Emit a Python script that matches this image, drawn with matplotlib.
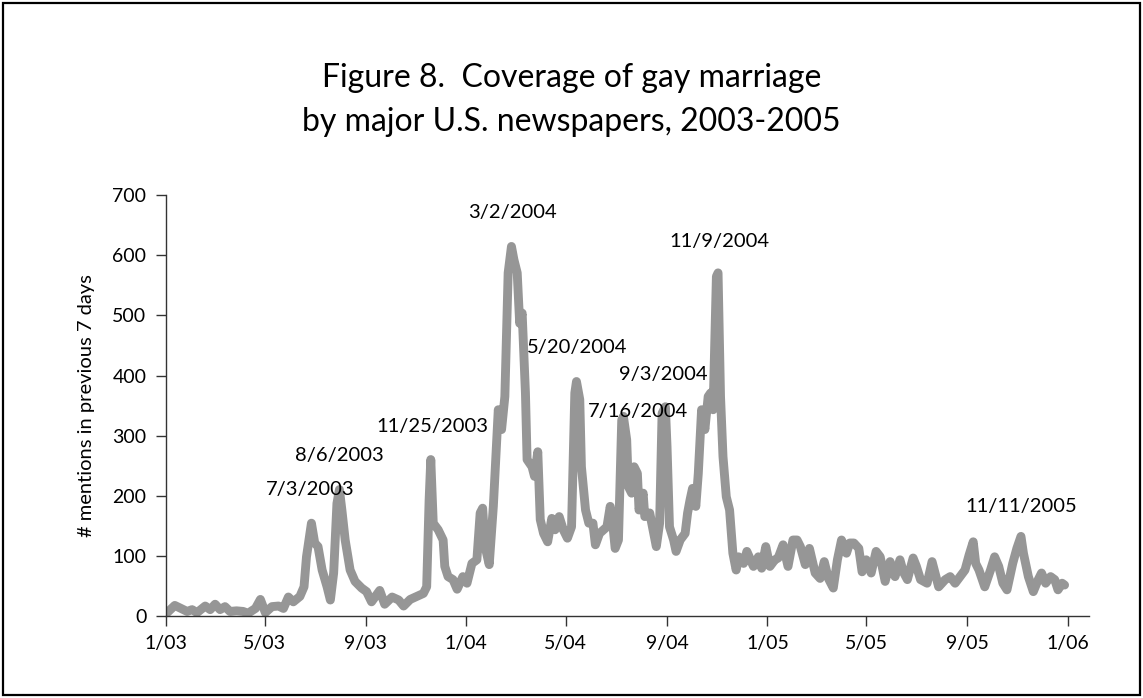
import numpy as np
import matplotlib
matplotlib.use("Agg")
import matplotlib.pyplot as plt
from matplotlib.patches import Rectangle

plt.rcParams['font.family'] = ['Lato', 'DejaVu Sans']

# days since 1/1/2003 and # mentions in previous 7 days
days = [1, 11, 17, 26, 32, 38, 48, 54, 60, 66, 72, 78, 86, 94, 100, 109, 115, 121,
        129, 137, 143, 149, 155, 163, 168, 171, 177, 181, 185, 190, 196, 200, 204,
        208, 211, 214, 218, 224, 230, 238, 244, 250, 260, 266, 275, 283, 289, 297,
        305, 313, 317, 320, 322, 325, 331, 337, 339, 343, 349, 354, 361,
        366, 372, 378, 382, 385, 388, 393, 398, 404, 408, 412, 416, 420, 423, 427,
        430, 433, 437, 439, 445, 448, 452, 455, 459, 464, 469, 473, 478, 483, 488,
        493, 497, 499, 503, 505, 510, 514, 519, 522, 527, 532, 536, 540, 543, 546,
        550, 554, 556, 560, 562, 566, 569, 573, 575, 580, 582, 588, 592, 596, 600,
        603, 607, 609, 612, 617, 620, 625, 631, 634, 637, 640, 644, 647, 651, 655,
        659, 662, 665, 669, 671, 674, 677, 681, 685, 689, 693,
        696, 702, 706, 714, 720, 724, 729, 734, 740, 744, 750, 756, 762, 767, 771,
        777, 782, 789, 795, 800, 805, 811, 816, 821, 827, 831, 836, 842, 846, 851,
        857, 863, 868, 874, 880, 886, 892, 896, 901, 908, 912, 917, 925, 931,
        939, 947, 953, 959, 965, 971, 976, 981, 984, 988, 995, 1002, 1007, 1012,
        1017, 1022, 1029, 1034, 1039, 1042, 1048, 1054, 1060, 1064, 1069, 1075,
        1080, 1084, 1089, 1092]
mentions = [4, 17, 13, 7, 10, 5, 16, 10, 19, 10, 15, 7, 8, 7, 4, 12, 27, 5,
            15, 16, 12, 31, 23, 32, 48, 98, 154, 121, 115, 76, 48, 26, 71,
            187, 210, 176, 126, 76, 57, 46, 40, 23, 42, 19, 31, 26, 16, 27,
            32, 37, 48, 193, 260, 154, 143, 126, 82, 65, 60, 44, 65,
            54, 87, 93, 171, 179, 115, 85, 182, 343, 310, 365, 571, 615, 593, 571,
            487, 504, 371, 260, 248, 232, 273, 160, 137, 123, 162, 143, 165, 143, 129,
            148, 371, 390, 360, 248, 176, 154, 154, 118, 137, 143, 148, 182, 154, 112,
            126, 326, 332, 293, 215, 204, 248, 237, 176, 204, 165, 171, 143, 115, 154,
            337, 348, 282, 148, 126, 107, 126, 137, 171, 193, 212, 182, 237, 343, 310,
            365, 371, 343, 565, 571, 365, 265, 198, 176, 104, 76,
            98, 87, 107, 82, 98, 79, 115, 82, 93, 96, 118, 82, 126, 126, 115,
            85, 112, 71, 62, 90, 62, 46, 93, 126, 104, 121, 121, 112, 73, 93,
            71, 107, 98, 57, 90, 65, 93, 73, 60, 96, 82, 60, 54, 90,
            48, 60, 65, 54, 65, 76, 101, 123, 87, 76, 48, 76, 98, 82,
            54, 43, 87, 112, 132, 104, 65, 40, 60, 71, 54, 65,
            60, 43, 54, 51]

peak_labels = ["7/3/2003", "8/6/2003", "11/25/2003", "3/2/2004", "5/20/2004",
               "7/16/2004", "9/3/2004", "11/9/2004", "11/11/2005"]
label_days = [176, 211, 324, 421, 500, 574, 605, 673, 1039]
label_vals = [210, 266, 315, 671, 446, 340, 401, 623, 182]

tick_dates = ['2003-01-01', '2003-05-01', '2003-09-01', '2004-01-01', '2004-05-01',
              '2004-09-01', '2005-01-01', '2005-05-01', '2005-09-01', '2006-01-01']
tick_labels = ['1/03', '5/03', '9/03', '1/04', '5/04', '9/04', '1/05', '5/05', '9/05', '1/06']

start = np.datetime64('2003-01-01')
dates = start + np.array(days).astype('timedelta64[D]')

fig = plt.figure(figsize=(11.43, 6.98), dpi=100)
ax = fig.add_axes([0.145, 0.118, 0.808, 0.602])

ax.plot(dates, mentions, color='#969696', lw=6.4, solid_joinstyle='round',
        solid_capstyle='round')

for lab, d, v in zip(peak_labels, label_days, label_vals):
    ax.text(start + np.timedelta64(d, 'D'), v, lab, ha='center', va='center',
            fontsize=14.5, color='black')

ax.set_ylim(0, 700)
ax.set_yticks(range(0, 701, 100))
ax.set_xlim(start, start + np.timedelta64(1122, 'D'))
ax.set_xticks(np.array(tick_dates, dtype='datetime64[D]'))
ax.set_xticklabels(tick_labels)
ax.tick_params(axis='both', labelsize=14, direction='out', length=7, width=1,
               color='#333333', pad=7)
ax.set_ylabel('# mentions in previous 7 days', fontsize=14.5, labelpad=12)
for s in ['top', 'right']:
    ax.spines[s].set_visible(False)
for s in ['left', 'bottom']:
    ax.spines[s].set_linewidth(1)
    ax.spines[s].set_color('#333333')

fig.text(0.5, 0.888, 'Figure 8.  Coverage of gay marriage', ha='center', va='center',
         fontsize=23)
fig.text(0.5, 0.825, 'by major U.S. newspapers, 2003-2005', ha='center', va='center',
         fontsize=23)

fig.patches.append(Rectangle((0.003, 0.004), 0.994, 0.992, transform=fig.transFigure,
                             fill=False, lw=1.6, edgecolor='black'))

fig.savefig('out.png', dpi=100)
